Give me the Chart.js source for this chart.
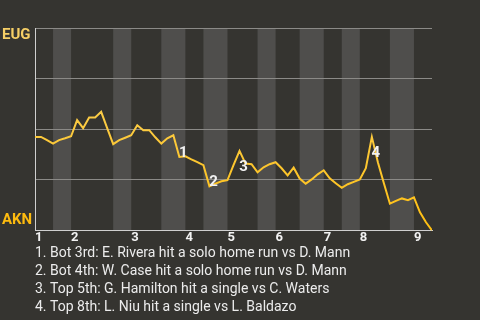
<!DOCTYPE html>
<html>
<head>
<meta charset="utf-8">
<script src="https://cdn.jsdelivr.net/npm/chart.js@4.4.0/dist/chart.umd.min.js"></script>
<style>
  html, body { margin: 0; padding: 0; background: #353430; }
</style>
</head>
<body>
<canvas id="wp" width="480" height="320"></canvas>
<script>
// innings and where each half starts (play index)
const innings = ['1', '2', '3', '4', '5', '6', '7', '8', '9'];
const inningStart = [0, 6, 16, 25, 32, 40, 48, 54, 63];
const bottomStart = [3, 13, 21, 28, 37, 44, 51, 59];
const lastPlay = 66;

// EUG win probability after each play (1 = EUG, 0 = AKN)
const winProb = [
  0.462, 0.462, 0.446, 0.429, 0.446, 0.455, 0.465, 0.545, 0.505, 0.558,
  0.558, 0.586, 0.505, 0.426, 0.446, 0.458, 0.470, 0.520, 0.495, 0.495,
  0.460, 0.429, 0.455, 0.470, 0.363, 0.366, 0.351, 0.337, 0.322, 0.218,
  0.231, 0.243, 0.248, 0.322, 0.393, 0.330, 0.327, 0.287, 0.312, 0.327,
  0.337, 0.307, 0.272, 0.310, 0.256, 0.231, 0.252, 0.277, 0.297, 0.257,
  0.233, 0.210, 0.228, 0.240, 0.252, 0.307, 0.462, 0.337, 0.233, 0.132,
  0.146, 0.158, 0.149, 0.163, 0.089, 0.040, 0.000
];

const teams = ['AKN', 'EUG'];
const eventPlay = [24, 29, 34, 56];
const events = [
  'Bot 3rd: E. Rivera hit a solo home run vs D. Mann',
  'Bot 4th: W. Case hit a solo home run vs D. Mann',
  'Top 5th: G. Hamilton hit a single vs C. Waters',
  'Top 8th: L. Niu hit a single vs L. Baldazo'
];

const BG = '#353430';
const STRIPE = '#4f4e4c';

const stripes = {
  id: 'stripes',
  beforeDraw(chart) {
    const { ctx, chartArea: a, scales: { x } } = chart;
    ctx.save();
    ctx.fillStyle = BG;
    ctx.fillRect(0, 0, chart.width, chart.height);
    ctx.fillStyle = STRIPE;
    bottomStart.forEach((s, i) => {
      const e = i + 1 < inningStart.length ? inningStart[i + 1] : lastPlay;
      const x0 = x.getPixelForValue(s);
      const x1 = x.getPixelForValue(e);
      ctx.fillRect(x0, a.top, x1 - x0, a.bottom - a.top);
    });
    ctx.restore();
  }
};

const labels = {
  id: 'labels',
  afterDraw(chart) {
    const { ctx, chartArea: a, scales: { x, y } } = chart;
    ctx.save();
    // event markers on the line
    ctx.font = 'bold 15px Roboto';
    ctx.fillStyle = '#f2f2f2';
    ctx.textAlign = 'center';
    ctx.textBaseline = 'middle';
    eventPlay.forEach((p, i) => {
      const up = winProb[p] > winProb[p - 1];
      const px = x.getPixelForValue(p) + 4;
      const py = y.getPixelForValue(winProb[p]) + (up ? 16 : -4);
      ctx.fillText(String(i + 1), px, py);
    });
    // team names on the value axis
    ctx.textAlign = 'left';
    ctx.fillStyle = '#f6cf66';
    ctx.fillText(teams[1], 2, y.getPixelForValue(1) + 7);
    ctx.fillStyle = '#fdbb0f';
    ctx.fillText(teams[0], 2, y.getPixelForValue(0) - 10);
    // footer list of big plays
    ctx.font = '14px Roboto';
    ctx.fillStyle = '#ececec';
    events.forEach((t, i) => {
      ctx.fillText((i + 1) + '. ' + t, a.left, a.bottom + 23 + i * 18);
    });
    ctx.restore();
  }
};

new Chart(document.getElementById('wp'), {
  type: 'line',
  data: {
    datasets: [{
      data: winProb.map((v, i) => ({ x: i, y: v })),
      borderWidth: 2,
      pointRadius: 0,
      tension: 0,
      borderColor: (c) => {
        const a = c.chart.chartArea;
        if (!a) return '#fcc63a';
        const g = c.chart.ctx.createLinearGradient(0, a.top, 0, a.bottom);
        g.addColorStop(0, '#f8d56e');
        g.addColorStop(1, '#ffbf10');
        return g;
      }
    }]
  },
  options: {
    responsive: false,
    animation: false,
    layout: { padding: { left: 35, top: 28, right: 48, bottom: 74 } },
    plugins: { legend: { display: false }, tooltip: { enabled: false } },
    scales: {
      x: {
        type: 'linear',
        min: 0,
        max: lastPlay,
        afterBuildTicks: (s) => { s.ticks = inningStart.map(v => ({ value: v })); },
        grid: { display: false, drawTicks: false },
        border: { color: '#cfcfcf', width: 1 },
        ticks: {
          autoSkip: false,
          maxRotation: 0,
          align: 'start',
          padding: 0,
          color: '#f2f2f2',
          font: { family: 'Roboto', size: 13, weight: 'bold' },
          callback: (v) => innings[inningStart.indexOf(v)]
        }
      },
      y: {
        min: 0,
        max: 1,
        ticks: { stepSize: 0.25, display: false },
        grid: { color: '#8b8a87', drawTicks: false },
        border: { color: '#cfcfcf', width: 1 }
      }
    }
  },
  plugins: [stripes, labels]
});
</script>
</body>
</html>
